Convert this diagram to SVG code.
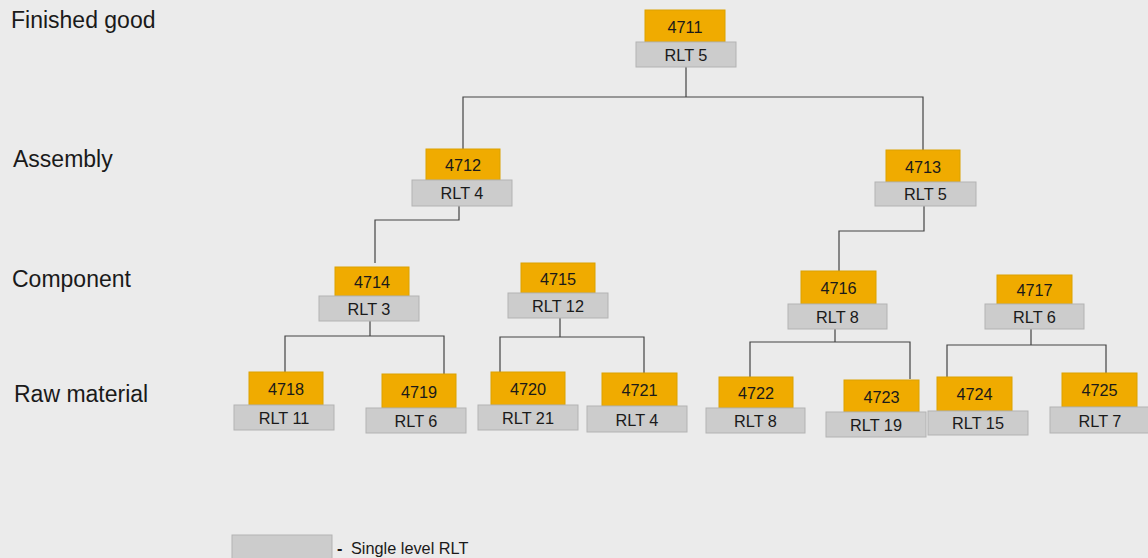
<svg xmlns="http://www.w3.org/2000/svg" width="1148" height="558" viewBox="0 0 1148 558">
<style>
.o{fill:#f0ab00;stroke:#dba200;stroke-width:1}
.g{fill:#cccccc;stroke:#b3b3b3;stroke-width:1}
.t{font-family:"Liberation Sans",Arial,sans-serif;font-size:16.3px;fill:#1a1a1a;text-anchor:middle}
.lv{font-family:"Liberation Sans",Arial,sans-serif;font-size:23px;fill:#1a1a1a}
.c{fill:none;stroke:#444444;stroke-width:1.2}
</style>
<rect width="1148" height="558" fill="#ebebeb"/>
<g id="levels">
<text class="lv" x="11" y="28">Finished good</text>
<text class="lv" x="13" y="167">Assembly</text>
<text class="lv" x="12" y="287">Component</text>
<text class="lv" x="14" y="402">Raw material</text>
</g>
<g id="connectors">
<path class="c" d="M686,67 V97 M463,149 V97 H923 V150"/>
<path class="c" d="M459,206 V220 H375 V263"/>
<path class="c" d="M924,206 V231 H839 V271"/>
<path class="c" d="M370,321 V336 M285,373 V336 H444 V374"/>
<path class="c" d="M560,318 V337 M500,372 V337 H644 V373"/>
<path class="c" d="M835,329 V342 M750,377 V342 H910 V379"/>
<path class="c" d="M1031,329 V345 M947,377 V345 H1106 V373"/>
</g>
<g id="n4711"><rect class="o" x="645" y="10" width="80" height="32"/><rect class="g" x="636" y="42" width="100" height="25"/><text class="t" x="685" y="32.5">4711</text><text class="t" x="686" y="61">RLT 5</text></g>
<g id="n4712"><rect class="o" x="426" y="149" width="74" height="31"/><rect class="g" x="412" y="180" width="100" height="26"/><text class="t" x="463" y="171">4712</text><text class="t" x="462" y="199">RLT 4</text></g>
<g id="n4713"><rect class="o" x="886" y="150" width="74" height="32"/><rect class="g" x="875" y="182" width="101" height="24"/><text class="t" x="923" y="172.5">4713</text><text class="t" x="925.5" y="200">RLT 5</text></g>
<g id="n4714"><rect class="o" x="335" y="267" width="74" height="29"/><rect class="g" x="319" y="296" width="100" height="25"/><text class="t" x="372" y="288">4714</text><text class="t" x="369" y="315">RLT 3</text></g>
<g id="n4715"><rect class="o" x="521" y="263" width="74" height="30"/><rect class="g" x="508" y="293" width="100" height="25"/><text class="t" x="558" y="284.5">4715</text><text class="t" x="558" y="312">RLT 12</text></g>
<g id="n4716"><rect class="o" x="801" y="271" width="75" height="33"/><rect class="g" x="788" y="304" width="99" height="25"/><text class="t" x="838.5" y="294">4716</text><text class="t" x="837.5" y="323">RLT 8</text></g>
<g id="n4717"><rect class="o" x="997" y="275" width="75" height="29"/><rect class="g" x="985" y="304" width="99" height="25"/><text class="t" x="1034.5" y="296">4717</text><text class="t" x="1034.5" y="323">RLT 6</text></g>
<g id="n4718"><rect class="o" x="249" y="372" width="74" height="33"/><rect class="g" x="234" y="405" width="100" height="25"/><text class="t" x="286" y="395">4718</text><text class="t" x="284" y="424">RLT 11</text></g>
<g id="n4719"><rect class="o" x="382" y="374" width="74" height="34"/><rect class="g" x="366" y="408" width="100" height="25"/><text class="t" x="419" y="397.5">4719</text><text class="t" x="416" y="427">RLT 6</text></g>
<g id="n4720"><rect class="o" x="491" y="372" width="74" height="33"/><rect class="g" x="478" y="405" width="100" height="25"/><text class="t" x="528" y="395">4720</text><text class="t" x="528" y="424">RLT 21</text></g>
<g id="n4721"><rect class="o" x="602" y="373" width="75" height="33"/><rect class="g" x="587" y="406" width="100" height="26"/><text class="t" x="639.5" y="396">4721</text><text class="t" x="637" y="426">RLT 4</text></g>
<g id="n4722"><rect class="o" x="719" y="377" width="74" height="31"/><rect class="g" x="706" y="408" width="99" height="25"/><text class="t" x="756" y="399">4722</text><text class="t" x="755.5" y="427">RLT 8</text></g>
<g id="n4723"><rect class="o" x="844" y="380" width="75" height="32"/><rect class="g" x="826" y="412" width="100" height="25"/><text class="t" x="881.5" y="402.5">4723</text><text class="t" x="876" y="431">RLT 19</text></g>
<g id="n4724"><rect class="o" x="937" y="377" width="75" height="34"/><rect class="g" x="928" y="411" width="100" height="24"/><text class="t" x="974.5" y="400">4724</text><text class="t" x="978" y="429">RLT 15</text></g>
<g id="n4725"><rect class="o" x="1062" y="373" width="75" height="34"/><rect class="g" x="1050" y="407" width="100" height="26"/><text class="t" x="1099.5" y="396">4725</text><text class="t" x="1100" y="427">RLT 7</text></g>
<g id="legend"><rect class="g" x="232" y="535" width="100" height="30"/><text class="t" x="337" y="554" style="text-anchor:start;font-weight:bold">-</text><text class="t" x="351" y="554" style="text-anchor:start">Single level RLT</text></g>
</svg>
